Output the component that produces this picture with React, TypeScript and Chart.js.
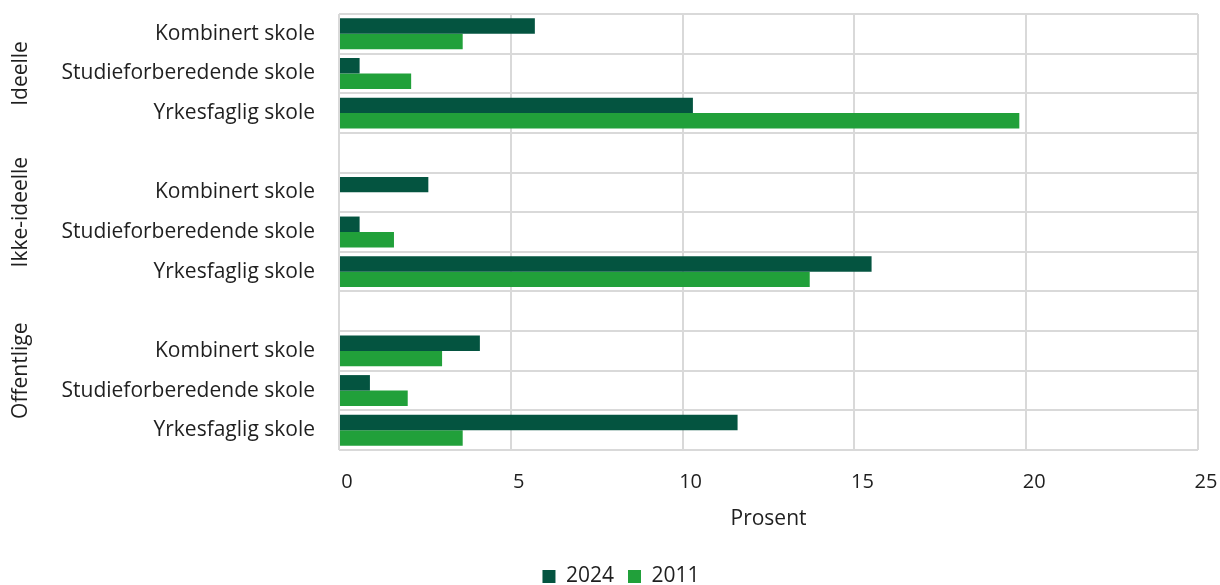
import React, { useEffect, useRef } from "react";
import { Chart, registerables } from "chart.js";

Chart.register(...registerables);

const categories = [
  "Kombinert skole",
  "Studieforberedende skole",
  "Yrkesfaglig skole",
  "",
  "Kombinert skole",
  "Studieforberedende skole",
  "Yrkesfaglig skole",
  "",
  "Kombinert skole",
  "Studieforberedende skole",
  "Yrkesfaglig skole",
];

const values2024 = [5.7, 0.6, 10.3, null, 2.6, 0.6, 15.5, null, 4.1, 0.9, 11.6];
const values2011 = [3.6, 2.1, 19.8, null, 0, 1.6, 13.7, null, 3.0, 2.0, 3.6];

const groupLabels = ["Ideelle", "Ikke-ideelle", "Offentlige"];
const groupCenters = [1, 4.5, 8.5];

const xTicks = [0, 5, 10, 15, 20, 25];

const FONT = "'Open Sans', sans-serif";
const TEXT = "#1f1f1f";
const GRID = "#d9d9d9";

const groupLabelPlugin = {
  id: "groupLabels",
  afterDraw(chart: any) {
    const y = chart.scales.y;
    const ctx = chart.ctx;
    ctx.save();
    ctx.font = `21px ${FONT}`;
    ctx.fillStyle = TEXT;
    ctx.textAlign = "center";
    ctx.textBaseline = "middle";
    groupLabels.forEach((lab, i) => {
      const py = y.getPixelForValue(groupCenters[i]);
      ctx.save();
      ctx.translate(21, py);
      ctx.rotate(-Math.PI / 2);
      ctx.fillText(lab, 0, 0);
      ctx.restore();
    });
    ctx.restore();
  },
};

export default function App() {
  const ref = useRef<HTMLCanvasElement>(null);
  useEffect(() => {
    if (!ref.current) return;
    document.body.style.margin = "0";
    document.body.style.overflow = "hidden";
    const chart = new Chart(ref.current, {
      type: "bar",
      data: {
        labels: categories,
        datasets: [
          {
            label: "2024",
            data: values2024,
            backgroundColor: "#045440",
            categoryPercentage: 0.78,
            barPercentage: 1,
          },
          {
            label: "2011",
            data: values2011,
            backgroundColor: "#21a03a",
            categoryPercentage: 0.78,
            barPercentage: 1,
          },
        ],
      },
      options: {
        indexAxis: "y",
        responsive: false,
        animation: false,
        layout: { padding: { top: 14, right: 22, left: 44, bottom: 0 } },
        scales: {
          x: {
            min: 0,
            max: 25,
            afterBuildTicks: (s: any) => {
              s.ticks = xTicks.map((v) => ({ value: v }));
            },
            afterFit: (s: any) => {
              s.height = 102;
              s.paddingLeft = 0;
              s.paddingRight = 0;
            },
            grid: { color: GRID, lineWidth: 2, drawTicks: false },
            border: { display: false },
            ticks: {
              font: { family: FONT, size: 20 },
              color: TEXT,
              padding: 20,
              labelOffset: 8,
              maxRotation: 0,
            },
            title: {
              display: true,
              text: "Prosent",
              font: { family: FONT, size: 21 },
              color: TEXT,
              padding: { top: 4, bottom: 20 },
            },
          },
          y: {
            afterFit: (s: any) => {
              s.width = 295;
              s.paddingTop = 0;
              s.paddingBottom = 0;
            },
            grid: { color: GRID, lineWidth: 2, offset: true, drawTicks: false },
            border: { display: false },
            ticks: {
              font: { family: FONT, size: 21 },
              color: TEXT,
              padding: 24,
              autoSkip: false,
            },
          },
        },
        plugins: {
          legend: {
            position: "bottom",
            labels: {
              font: { family: FONT, size: 21 },
              color: TEXT,
              boxWidth: 13,
              boxHeight: 13,
              padding: 14,
            },
          },
          tooltip: { enabled: false },
        },
      },
      plugins: [groupLabelPlugin],
    } as any);
    return () => chart.destroy();
  }, []);
  return (
    <div style={{ width: 1220, height: 597 }}>
      <canvas ref={ref} width={1220} height={597} />
    </div>
  );
}
